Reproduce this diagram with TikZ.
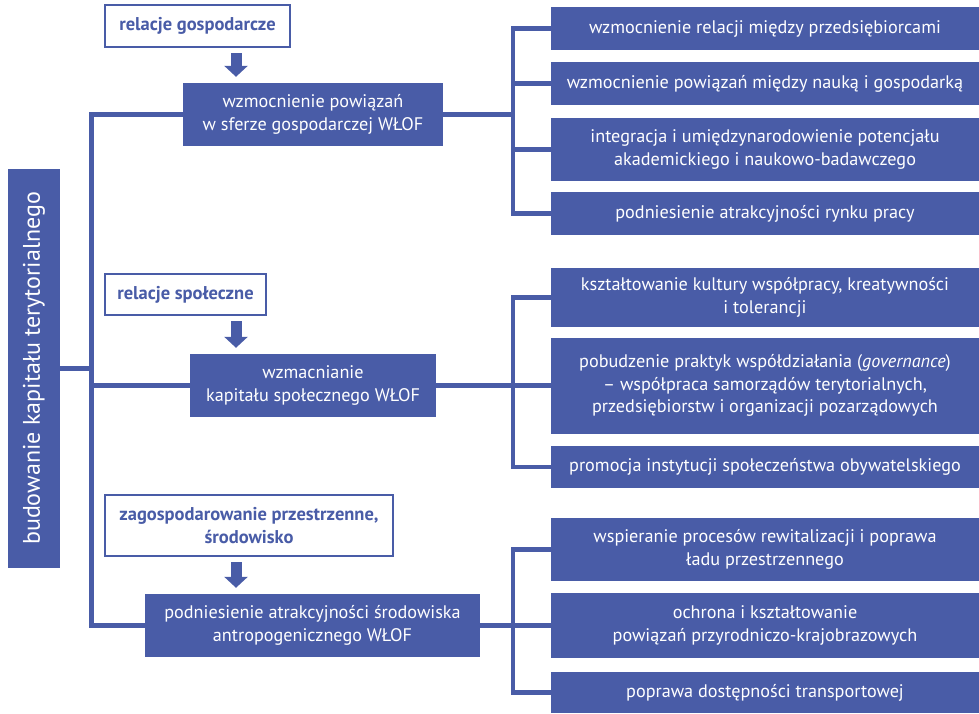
\documentclass[tikz,border=0pt]{standalone}
\usepackage{fontspec}
\setmainfont{PT Sans}
\usetikzlibrary{arrows.meta}
\definecolor{wlofblue}{RGB}{73,92,167}

\begin{document}
\begin{tikzpicture}[x=1pt, y=-1pt,
  box/.style={fill=wlofblue, text=white, inner sep=0pt, align=center,
    font=\fontsize{18.2}{22.5}\selectfont},
  aim/.style={box, minimum width=428pt},
  tag/.style={draw=wlofblue, line width=2.2pt, fill=white, text=wlofblue,
    inner sep=0pt, align=center, font=\fontsize{18.5}{22.5}\selectfont\bfseries},
  link/.style={draw=wlofblue, line width=4.5pt},
  push/.style={draw=wlofblue, line width=11pt,
    -{Triangle[width=23pt,length=11pt]}, shorten <=5pt, shorten >=6pt}]

\useasboundingbox (0,0) rectangle (979,714);

\coordinate (trunk) at (91.5,400); %% left trunk line
\coordinate (fork) at (513,400);   %% right brackets
\coordinate (ax) at (236,0);       %% block arrows

%% left box
\node[box, rotate=90, minimum width=399pt, minimum height=52pt,
  font=\fontsize{24}{28}\selectfont] (capital) at (34,368.5)
  {budowanie kapitału terytorialnego};

%% relacje gospodarcze
\node[tag, minimum width=185pt, minimum height=42pt] (tag1) at (197.5,26)
  {relacje gospodarcze};
\node[box, minimum width=260pt, minimum height=63pt] (mid1) at (313,114.5)
  {wzmocnienie powiązań\\w sferze gospodarczej WŁOF};
\node[aim, minimum height=43pt] (aim1) at (765,28.5)
  {wzmocnienie relacji między przedsiębiorcami};
\node[aim, minimum height=43pt] (aim2) at (765,83.5)
  {wzmocnienie powiązań między nauką i gospodarką};
\node[aim, minimum height=63pt] (aim3) at (765,149.5)
  {integracja i umiędzynarodowienie potencjału\\akademickiego i naukowo-badawczego};
\node[aim, minimum height=43pt] (aim4) at (765,213.5)
  {podniesienie atrakcyjności rynku pracy};

%% relacje spoleczne
\node[tag, minimum width=161pt, minimum height=41pt] (tag2) at (185.5,294.5)
  {relacje społeczne};
\node[box, minimum width=246pt, minimum height=63pt] (mid2) at (313,385.5)
  {wzmacnianie\\kapitału społecznego WŁOF};
\node[aim, minimum height=59pt] (aim5) at (765,297.5)
  {kształtowanie kultury współpracy, kreatywności\\i tolerancji};
\node[aim, minimum height=96pt] (aim6) at (765,385.5)
  {pobudzenie praktyk współdziałania (\emph{governance})\\– współpraca samorządów terytorialnych,\\przedsiębiorstw i organizacji pozarządowych};
\node[aim, minimum height=42pt] (aim7) at (765,467)
  {promocja instytucji społeczeństwa obywatelskiego};

%% zagospodarowanie przestrzenne
\node[tag, minimum width=288pt, minimum height=61pt] (tag3) at (249,525.5)
  {zagospodarowanie przestrzenne,\\środowisko};
\node[box, minimum width=335pt, minimum height=63pt] (mid3) at (312.5,625.5)
  {podniesienie atrakcyjności środowiska\\antropogenicznego WŁOF};
\node[aim, minimum height=63pt] (aim8) at (765,549.5)
  {wspieranie procesów rewitalizacji i poprawa\\ładu przestrzennego};
\node[aim, minimum height=65pt] (aim9) at (765,625.5)
  {ochrona i kształtowanie\\powiązań przyrodniczo-krajobrazowych};
\node[aim, minimum height=41pt] (aim10) at (765,692.5)
  {poprawa dostępności transportowej};

%% arrows
\foreach \t/\m in {tag1/mid1, tag2/mid2, tag3/mid3}
  \draw[push] (\t.south -| ax) -- (\m.north -| ax);

%% trunk
\draw[link] (mid1.west) -| (trunk |- mid3.west) -- (mid3.west);
\draw[link] (capital.south) -- (capital.south -| trunk);
\draw[link] (mid2.west) -- (mid2.west -| trunk);

%% brackets
\draw[link] (mid1.east) -- (mid1.east -| fork);
\draw[link] (aim1.west) -| (fork |- aim4.west) -- (aim4.west);
\foreach \n in {aim2, aim3}
  \draw[link] (\n.west) -- (\n.west -| fork);
\draw[link] (mid2.east) -- (aim6.west);
\draw[link] (aim5.west) -| (fork |- aim7.west) -- (aim7.west);
\draw[link] (mid3.east) -- (aim9.west);
\draw[link] (aim8.west) -| (fork |- aim10.west) -- (aim10.west);

\end{tikzpicture}
\end{document}
